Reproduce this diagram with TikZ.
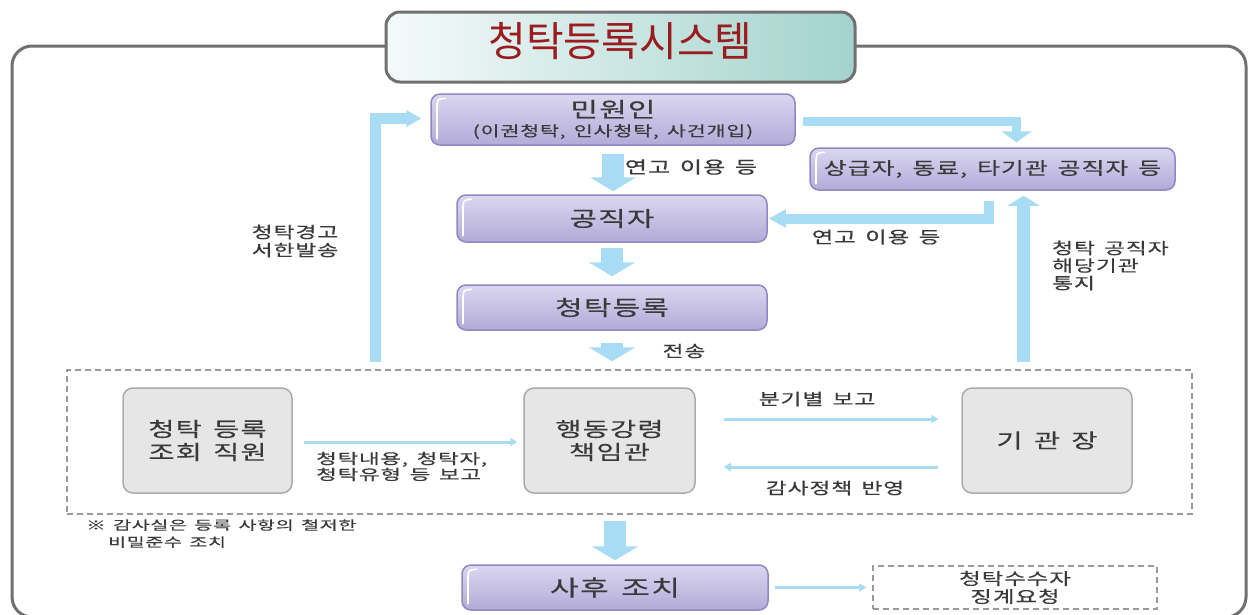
\documentclass[tikz,border=0pt]{standalone}
\usepackage{fontspec}
\newfontfamily\kr[FakeStretch=1.42,LetterSpace=6,WordSpace=1.5,FakeBold=0.4]{Noto Sans CJK KR}
\newfontfamily\krn[FakeStretch=1.55,LetterSpace=5,WordSpace=1.5,FakeBold=0.4]{Noto Sans CJK KR}
\newfontfamily\krtitle{Noto Sans CJK KR}
\usetikzlibrary{arrows.meta,calc}
\definecolor{abl}{HTML}{A8DCF5}
\definecolor{frame}{HTML}{707070}
\definecolor{tleft}{HTML}{F5FAFA}
\definecolor{tright}{HTML}{A3D3CD}
\definecolor{tred}{HTML}{9A1C1F}
\definecolor{ptop}{HTML}{DAD7EF}
\definecolor{pbot}{HTML}{B2ABD9}
\definecolor{pbord}{HTML}{8F88C4}
\definecolor{gfill}{HTML}{E6E6E6}
\definecolor{gbord}{HTML}{ABABAB}
\definecolor{dgray}{HTML}{9A9A9A}
\definecolor{txt}{HTML}{3A3A3A}
\tikzset{
  pbox/.style={draw=pbord, line width=1.5pt, rounded corners=9pt, top color=ptop, bottom color=pbot,
    inner sep=0pt, text=txt, align=center},
  gbox/.style={draw=gbord, line width=1.5pt, fill=gfill, rounded corners=10pt, inner sep=0pt,
    text=txt, align=center, minimum height=105pt, font=\kr\fontsize{20}{23}\selectfont},
  dbox/.style={draw=dgray, line width=1.5pt, dash pattern=on 6pt off 4pt, inner sep=0pt, align=center},
  lbl/.style={text=txt, inner sep=0pt, align=center},
  bigarr/.style={draw=abl, line width=22pt, -{Triangle[width=46pt,length=14pt]}},
  thinarr/.style={draw=abl, line width=3pt, -{Triangle[width=8pt,length=7pt]}},
  glossy/.style={draw=white, line width=1.6pt, line cap=round},
}
\newcommand\glossline[1]{%
  \draw[glossy] ($(#1.north west)+(7,12)$) -- ($(#1.south west)+(7,-7)$);
  \draw[glossy] ($(#1.north west)+(7,13)$) .. controls
    ($(#1.north west)+(7,6)$) .. ($(#1.north west)+(15,5)$);}
\begin{document}
\begin{tikzpicture}[x=1pt,y=-1pt]
\useasboundingbox (0,0) rectangle (1249,614);
\fill[white] (0,0) rectangle (1249,614);
% outer frame
\draw[frame, line width=3pt, rounded corners=20pt] (12,46) rectangle (1246,617);
% title
\node[draw=frame, line width=3pt, rounded corners=14pt, left color=tleft, right color=tright,
  minimum width=469pt, minimum height=70pt, inner sep=0pt, text=tred,
  font=\krtitle\fontsize{41}{45}\selectfont, text height=30pt, text depth=11pt] (title) at (620.5,47) {청탁등록시스템};

% purple boxes
\node[pbox, minimum width=364pt, minimum height=51pt, font=\kr\fontsize{21}{19}\selectfont] (minwon) at (613,119.5)
  {민원인\\{\fontsize{14.5}{19}\selectfont (이권청탁, 인사청탁, 사건개입)}};
\node[pbox, minimum width=310pt, minimum height=47pt, font=\kr\fontsize{21}{24}\selectfont] (gongjik) at (612,218.5) {공직자};
\node[pbox, minimum width=310pt, minimum height=45pt, font=\kr\fontsize{21}{24}\selectfont] (deungrok) at (612,307.5) {청탁등록};
\node[pbox, minimum width=365pt, minimum height=42pt, font=\kr\fontsize{17.5}{22}\selectfont] (sanggeup) at (992.5,169) {상급자, 동료, 타기관 공직자 등};
\node[pbox, minimum width=306pt, minimum height=45pt, font=\kr\fontsize{22}{24}\selectfont] (sahu) at (615,587.5) {사후 조치};
\glossline{minwon}
\glossline{gongjik}
\glossline{deungrok}
\glossline{sanggeup}
\glossline{sahu}

% dashed boxes
\node[dbox, minimum width=1125pt, minimum height=144pt] (big) at (629.5,442) {};
\node[dbox, minimum width=284pt, minimum height=43pt, text=txt, font=\kr\fontsize{16.5}{18}\selectfont] (jing) at (1015,587.5) {청탁수수자\\징계요청};

% gray boxes
\node[gbox, minimum width=169pt] (g1) at (207.5,440.5) {청탁 등록\\조회 직원};
\node[gbox, minimum width=171pt] (g2) at (609.5,440.5) {행동강령\\책임관};
\node[gbox, minimum width=170pt] (g3) at (1047,440.5) {기 관 장};

% big vertical arrows
\draw[bigarr] ([yshift=-8pt]minwon.south) -- ([yshift=3pt]minwon.south |- gongjik.north);
\draw[bigarr] ([yshift=-5pt]gongjik.south) -- ([yshift=8pt]deungrok.north);
\draw[bigarr] ([yshift=-12pt]deungrok.south) -- ([yshift=8pt]deungrok.south |- big.north);
\draw[bigarr] ([yshift=-6pt]sahu.north |- big.south) -- ([yshift=4pt]sahu.north);

% bent arrows
\draw[draw=abl, line width=9pt, -{Triangle[width=30pt,length=11pt]}]
  ([xshift=7pt,yshift=-2pt]minwon.east) -| ([xshift=24pt,yshift=5pt]sanggeup.north);
\draw[draw=abl, line width=10pt, -{Triangle[width=17pt,length=17pt]}]
  ([xshift=-3.5pt,yshift=-10pt]sanggeup.south) |- ([xshift=1pt]gongjik.east);
\coordinate (upbase) at ([xshift=31pt]sanggeup.south |- big.north);
\draw[draw=abl, line width=13pt, -{Triangle[width=32pt,length=10pt]}]
  ([yshift=7pt]upbase) -- ([xshift=31pt,yshift=-5pt]sanggeup.south);
\coordinate (lbase) at ([xshift=309.5pt,yshift=7pt]big.north west);
\draw[draw=abl, line width=11pt, -{Triangle[width=16pt,length=15pt]}]
  (lbase) |- ([xshift=-9pt,yshift=1pt]minwon.west);

% thin arrows
\draw[thinarr] ([xshift=11pt,yshift=-1.5pt]g1.east) -- ([xshift=-6pt,yshift=-1.5pt]g2.west);
\draw[thinarr] ([xshift=28pt,yshift=21.5pt]g2.east) -- ([xshift=-23pt,yshift=21.5pt]g3.west);
\draw[thinarr] ([xshift=-23pt,yshift=-26.5pt]g3.west) -- ([xshift=28pt,yshift=-26.5pt]g2.east);
\draw[thinarr] ([xshift=6pt]sahu.east) -- ([xshift=-6pt]jing.west);

% labels
\node[lbl, font=\kr\fontsize{17}{20}\selectfont] (l1) at (691,167) {연고 이용 등};
\node[lbl, font=\kr\fontsize{16}{20}\selectfont] (l2) at (684,351) {전송};
\node[lbl, font=\kr\fontsize{16}{18}\selectfont] (l3) at (295,241) {청탁경고\\서한발송};
\node[lbl, font=\kr\fontsize{16.5}{20}\selectfont] (l4) at (876,237) {연고 이용 등};
\node[lbl, anchor=west, align=left, font=\kr\fontsize{16}{17.5}\selectfont] (l5) at (1052,265.5) {청탁 공직자\\해당기관\\통지};
\node[lbl, font=\kr\fontsize{16}{20}\selectfont] (l6) at (817,399) {분기별 보고};
\node[lbl, font=\kr\fontsize{16}{20}\selectfont] (l7) at (835,488) {감사정책 반영};
\node[lbl, anchor=west, align=left, font=\krn\fontsize{14.5}{14.5}\selectfont] (l8) at (316,466.5) {청탁내용, 청탁자,\\청탁유형 등 보고};
\node[lbl, anchor=west, align=left, font=\krn\fontsize{12.6}{17}\selectfont] (note) at (86,533.5) {※ 감사실은 등록 사항의 철저한\\\hspace*{22pt}비밀준수 조치};
\end{tikzpicture}
\end{document}
